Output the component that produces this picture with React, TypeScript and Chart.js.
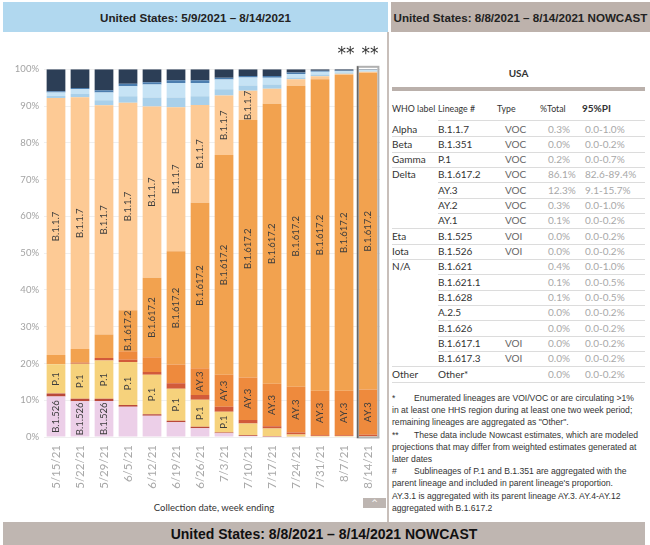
import React, { useEffect, useRef } from "react";
import { Chart, registerables } from "chart.js";
Chart.register(...registerables);

const weeks = ["5/15/21", "5/22/21", "5/29/21", "6/5/21", "6/12/21", "6/19/21", "6/26/21", "7/3/21", "7/10/21", "7/17/21", "7/24/21", "7/31/21", "8/7/21", "8/14/21"];

// stacked shares (%), bottom to top
const b1526 = [11.0, 9.7, 9.8, 8.2, 5.8, 4.0, 2.4, 1.0, 0.3, 0.1, 0.05, 0, 0, 0];
const b1351 = [0.8, 0.7, 0.6, 0.5, 0.4, 0.4, 0.4, 0.2, 0.2, 0.1, 0.05, 0, 0, 0];
const p1 = [8.0, 9.5, 10.4, 11.7, 10.7, 8.7, 7.3, 5.7, 3.2, 2.1, 0.6, 0.3, 0.3, 0.2];
const ay2 = [0, 0.3, 0.7, 0.6, 0.8, 1.5, 1.3, 1.3, 0.9, 0.6, 0.5, 0.2, 0.2, 0.4];
const ay3 = [0, 0, 0, 2.3, 4.0, 5.1, 7.3, 8.7, 11.6, 11.6, 12.5, 12.1, 12.1, 12.3];
const b16172 = [2.5, 3.7, 6.4, 11.2, 21.6, 30.8, 45.0, 59.8, 70.0, 76.1, 81.8, 84.7, 85.9, 86.1];
const b117 = [69.9, 68.5, 62.3, 56.4, 46.6, 39.2, 26.6, 16.2, 8.0, 4.1, 1.8, 0.8, 0.3, 0.3];
const b1621 = [0.6, 0.9, 1.4, 1.8, 2.4, 2.6, 2.4, 1.7, 1.4, 1.2, 0.5, 0.5, 0.3, 0.2];
const b1628 = [0.9, 1.3, 2.1, 2.7, 3.6, 4.0, 3.6, 2.6, 2.2, 1.8, 0.9, 0.7, 0.4, 0.4];
const b16171 = [0.3, 0.3, 0.6, 0.7, 0.6, 0.7, 0.7, 0.5, 0.4, 0.5, 0.4, 0.3, 0.2, 0.0];
const other = [6.0, 5.1, 5.7, 3.9, 3.5, 3.0, 3.0, 2.3, 1.8, 1.8, 0.9, 0.4, 0.3, 0.1];

const yTicks = [0, 10, 20, 30, 40, 50, 60, 70, 80, 90, 100];
const labelled = ["B.1.526", "P.1", "AY.3", "B.1.617.2", "B.1.1.7"];
const nowcastIndex = 13;
const starredIndices = [12, 13];

// table
const whoLabels = ["Alpha", "Beta", "Gamma", "Delta", "", "", "", "Eta", "Iota", "N/A", "", "", "", "", "", "", "Other"];
const lineages = ["B.1.1.7", "B.1.351", "P.1", "B.1.617.2", "AY.3", "AY.2", "AY.1", "B.1.525", "B.1.526", "B.1.621", "B.1.621.1", "B.1.628", "A.2.5", "B.1.626", "B.1.617.1", "B.1.617.3", "Other*"];
const types = ["VOC", "VOC", "VOC", "VOC", "VOC", "VOC", "VOC", "VOI", "VOI", "", "", "", "", "", "VOI", "VOI", ""];
const pctTotal = ["0.3%", "0.0%", "0.2%", "86.1%", "12.3%", "0.3%", "0.1%", "0.0%", "0.0%", "0.4%", "0.1%", "0.1%", "0.0%", "0.0%", "0.0%", "0.0%", "0.0%"];
const pi95 = ["0.0-1.0%", "0.0-0.2%", "0.0-0.7%", "82.6-89.4%", "9.1-15.7%", "0.0-1.0%", "0.0-0.2%", "0.0-0.2%", "0.0-0.2%", "0.0-1.0%", "0.0-0.5%", "0.0-0.5%", "0.0-0.2%", "0.0-0.2%", "0.0-0.2%", "0.0-0.2%", "0.0-0.2%"];

const notes = [
  ["*", "Enumerated lineages are VOI/VOC or are circulating >1%"],
  ["", "in at least one HHS region during at least one two week period;"],
  ["", "remaining lineages are aggregated as \"Other\"."],
  ["**", "These data include Nowcast estimates, which are modeled"],
  ["", "projections that may differ from weighted estimates generated at"],
  ["", "later dates"],
  ["#", "Sublineages of P.1 and B.1.351 are aggregated with the"],
  ["", "parent lineage and included in parent lineage's proportion."],
  ["", "AY.3.1 is aggregated with its parent lineage AY.3. AY.4-AY.12"],
  ["", "aggregated with B.1.617.2"],
];

const TAB_FONT = "Lato, 'Noto Sans', sans-serif";

const segLabels = {
  id: "segLabels",
  afterDatasetsDraw(chart: any) {
    const ctx = chart.ctx;
    ctx.save();
    ctx.font = "9.5px Lato";
    try { (ctx as any).fontKerning = "none"; } catch (e) { /* ignore */ }
    ctx.fillStyle = "#3d3d3d";
    ctx.textAlign = "center";
    ctx.textBaseline = "middle";
    chart.data.datasets.forEach((ds: any, di: number) => {
      if (!labelled.includes(ds.label)) return;
      const w = ctx.measureText(ds.label).width;
      chart.getDatasetMeta(di).data.forEach((el: any) => {
        const p = el.getProps(["x", "y", "base"], true);
        const h = Math.abs(p.base - p.y);
        if (h < w) return;
        ctx.save();
        ctx.translate(p.x, (p.y + p.base) / 2);
        ctx.rotate(-Math.PI / 2);
        ctx.fillText(ds.label, 0, 0);
        ctx.restore();
      });
    });
    ctx.restore();
  },
};

const highlight = {
  id: "highlight",
  afterDatasetsDraw(chart: any) {
    const ctx = chart.ctx;
    const el: any = chart.getDatasetMeta(0).data[nowcastIndex];
    const { top, bottom } = chart.chartArea;
    const x0 = el.x - el.width / 2 - 1;
    const x1 = el.x + el.width / 2 + 1;
    ctx.save();
    ctx.strokeStyle = "#b0b0b0";
    ctx.lineWidth = 2;
    ctx.strokeRect(x0, top - 2.5, x1 - x0, bottom - top + 3);
    ctx.strokeStyle = "#666";
    ctx.lineWidth = 1.6;
    ctx.beginPath();
    ctx.moveTo(x0, top - 3);
    ctx.lineTo(x0, bottom + 1);
    ctx.stroke();
    // asterisks
    ctx.fillStyle = "#333";
    ctx.font = "17px 'DejaVu Sans'";
    ctx.textAlign = "center";
    ctx.textBaseline = "alphabetic";
    starredIndices.forEach((i) => {
      const e: any = chart.getDatasetMeta(0).data[i];
      ctx.fillText("**", e.x + 2, top - 10);
    });
    ctx.restore();
  },
};

export default function App() {
  const ref = useRef<HTMLCanvasElement>(null);
  useEffect(() => {
    document.body.style.margin = "0";
    const mk = (label: string, data: number[], color: string) => ({
      label,
      data,
      backgroundColor: color,
      borderWidth: 0,
      barPercentage: 0.78,
      categoryPercentage: 1,
    });
    const chart = new Chart(ref.current!, {
      type: "bar",
      data: {
        labels: weeks,
        datasets: [
          mk("B.1.526", b1526, "#eccfe8"),
          mk("B.1.351", b1351, "#b9483a"),
          mk("P.1", p1, "#f6d27c"),
          mk("AY.2", ay2, "#d25a3a"),
          mk("AY.3", ay3, "#ee8a3d"),
          mk("B.1.617.2", b16172, "#f2a24f"),
          mk("B.1.1.7", b117, "#fdca95"),
          mk("B.1.621", b1621, "#a9d0ea"),
          mk("B.1.628", b1628, "#c6e3f5"),
          mk("B.1.617.1", b16171, "#4c7eaf"),
          mk("Other", other, "#2c3e56"),
        ],
      },
      options: {
        animation: false,
        responsive: true,
        maintainAspectRatio: false,
        layout: { padding: { top: 33.3, right: 4.4, left: 0, bottom: 0 } },
        plugins: { legend: { display: false }, tooltip: { enabled: false } },
        scales: {
          x: {
            stacked: true,
            grid: { display: false, drawTicks: false },
            border: { display: false },
            afterFit: (s: any) => { s.height = 63; },
            ticks: {
              autoSkip: false,
              minRotation: 90,
              maxRotation: 90,
              padding: 8,
              color: "#a8a8a8",
              font: { family: "Lato", size: 11.5 },
            },
          },
          y: {
            stacked: true,
            min: 0,
            max: 100,
            afterFit: (s: any) => { s.width = 44; },
            afterBuildTicks: (s: any) => { s.ticks = yTicks.map((v) => ({ value: v })); },
            grid: { color: "#efefef", drawTicks: false },
            border: { display: false },
            ticks: {
              padding: 5,
              color: "#a3a3a3",
              font: { family: "Lato", size: 9.5 },
              callback: (v: any) => v + "%",
            },
          },
        },
      },
      plugins: [segLabels, highlight],
    });
    return () => chart.destroy();
  }, []);

  const rowTop0 = 121.5;
  const rowH = 15.33;

  return (
    <div style={{ position: "absolute", left: 0, top: 0, width: 650, height: 545, background: "#fff", overflow: "hidden", fontFamily: TAB_FONT }}>
      {/* headers */}
      <div style={{ position: "absolute", left: 3, top: 2, width: 385, height: 30, background: "#b1d8ef", display: "flex", alignItems: "center", justifyContent: "center", font: "bold 11.6px 'Liberation Sans', Arial, sans-serif", color: "#222" }}>
        United States: 5/9/2021 – 8/14/2021
      </div>
      <div style={{ position: "absolute", left: 391, top: 2, width: 259, height: 30, background: "#bdb2ac", display: "flex", alignItems: "center", justifyContent: "center", font: "bold 11.6px 'Liberation Sans', Arial, sans-serif", color: "#222", whiteSpace: "nowrap" }}>
        United States: 8/8/2021 – 8/14/2021 NOWCAST
      </div>

      {/* chart */}
      <div style={{ position: "absolute", left: 0, top: 36, width: 390, height: 464 }}>
        <canvas ref={ref} />
      </div>
      <div style={{ position: "absolute", left: 363, top: 498, width: 23, height: 10, background: "#bdb5b1", color: "#fff", fontSize: 8, lineHeight: "12px", textAlign: "center", fontFamily: "'DejaVu Sans', sans-serif" }}>^</div>
      <div style={{ position: "absolute", left: 114, top: 502, width: 200, textAlign: "center", fontSize: 9.5, color: "#333", fontFamily: TAB_FONT }}>
        Collection date, week ending
      </div>

      {/* separator */}
      <div style={{ position: "absolute", left: 387, top: 32, width: 2, height: 490, background: "#c8bfba" }} />

      {/* table */}
      <div style={{ position: "absolute", left: 392, top: 67, width: 253, textAlign: "center", fontWeight: 700, fontSize: 10, color: "#333" }}>USA</div>
      <div style={{ position: "absolute", left: 392, top: 86.5, width: 253, height: 4, background: "#bab0ab" }} />
      {[
        ["WHO label", 392, 400],
        ["Lineage #", 438, 400],
        ["Type", 497, 400],
        ["%Total", 540, 400],
        ["95%PI", 582, 700],
      ].map(([t, x, w]) => (
        <div key={t as string} style={{ position: "absolute", left: x as number, top: 101, height: 15, lineHeight: "15px", fontSize: w === 700 ? 10 : 8.8, fontWeight: w as number, color: "#333", whiteSpace: "nowrap" }}>{t}</div>
      ))}
      <div style={{ position: "absolute", left: 438, top: 120, width: 207, height: 1, background: "#dcdcdc" }} />
      {lineages.map((lin, i) => {
        const top = rowTop0 + i * rowH;
        const groupEnd = i === lineages.length - 1 || whoLabels[i + 1] !== "";
        const cell = (txt: string, x: number, color: string) => (
          <div style={{ position: "absolute", left: x, top, height: rowH, lineHeight: rowH + "px", fontSize: 10, color, whiteSpace: "nowrap" }}>{txt}</div>
        );
        return (
          <React.Fragment key={lin}>
            {cell(whoLabels[i], 392, "#333")}
            {cell(lin, 438, "#333")}
            {cell(types[i], 505, "#666")}
            {cell(pctTotal[i], 548, "#a8a8a8")}
            {cell(pi95[i], 585, "#a8a8a8")}
            <div style={{ position: "absolute", left: groupEnd ? 392 : 438, top: top + rowH - 0.5, width: groupEnd ? 253 : 207, height: 1, background: "#dcdcdc" }} />
          </React.Fragment>
        );
      })}

      {/* notes */}
      {notes.map(([m, t], i) => (
        <div key={i} style={{ position: "absolute", left: 392, top: 393 + i * 12.2, height: 12, lineHeight: "12px", font: "8.6px 'Liberation Sans', Arial, sans-serif", color: "#333", whiteSpace: "nowrap" }}>
          {m ? <span style={{ display: "inline-block", width: 22 }}>{m}</span> : null}
          {t}
        </div>
      ))}

      {/* footer */}
      <div style={{ position: "absolute", left: 3, top: 522, width: 642, height: 23, background: "#bfb6b1", display: "flex", alignItems: "center", justifyContent: "center", font: "bold 14px 'Liberation Sans', Arial, sans-serif", color: "#111" }}>
        United States: 8/8/2021 – 8/14/2021 NOWCAST
      </div>
    </div>
  );
}
